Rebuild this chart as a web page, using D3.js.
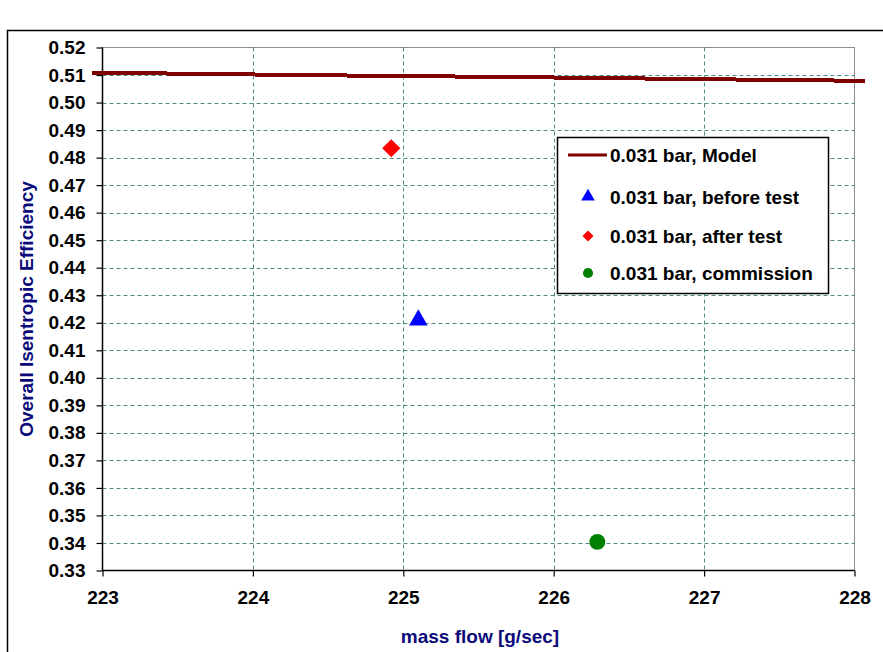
<!DOCTYPE html>
<html>
<head>
<meta charset="utf-8">
<script src="https://cdn.jsdelivr.net/npm/d3@7/dist/d3.min.js"></script>
<style>
  html, body { margin: 0; padding: 0; background: #ffffff; }
  svg { display: block; }
  text { font-family: "Liberation Sans", Arial, sans-serif; font-weight: bold; }
</style>
</head>
<body>
<svg id="chart" width="883" height="652"></svg>
<script>
// Model curve: mass flow [g/sec] vs overall isentropic efficiency
const modelFlow = [222.93, 223.5, 224.0, 224.5, 225.0, 225.5, 226.0, 226.5, 227.0, 227.5, 228.07];
const modelEff  = [0.5109, 0.5105, 0.5102, 0.5099, 0.5096, 0.5094, 0.5091, 0.5088, 0.5085, 0.5082, 0.5079];

// Measured points
const beforeTest = { flow: 225.10, eff: 0.421 };
const afterTest  = { flow: 224.92, eff: 0.4834 };
const commission = { flow: 226.29, eff: 0.3404 };

const xTicks = [223, 224, 225, 226, 227, 228];
const yTicks = d3.range(33, 53).map(v => v / 100);

const seriesNames = [
  "0.031 bar, Model",
  "0.031 bar, before test",
  "0.031 bar, after test",
  "0.031 bar, commission"
];
const seriesColors = ["#800000", "#0000ff", "#ff0000", "#008000"];

const xTitle = "mass flow [g/sec]";
const yTitle = "Overall Isentropic Efficiency";

const svg = d3.select("#chart");
const plot = { left: 102.5, right: 854.5, top: 47.5, bottom: 570.5 };

const x = d3.scaleLinear().domain([223, 228]).range([plot.left, plot.right]);
const y = d3.scaleLinear().domain([0.33, 0.52]).range([plot.bottom, plot.top]);

// outer chart frame (runs past the right and bottom edges)
svg.append("rect")
  .attr("x", 7.5).attr("y", 30.5)
  .attr("width", 1000).attr("height", 1000)
  .attr("fill", "#ffffff").attr("stroke", "#000").attr("stroke-width", 1.5);

// plot area border (top / right in gray)
svg.append("rect")
  .attr("x", plot.left).attr("y", plot.top)
  .attr("width", plot.right - plot.left).attr("height", plot.bottom - plot.top)
  .attr("fill", "#ffffff").attr("stroke", "#8c8c8c").attr("stroke-width", 1);

// gridlines
const gridColor = "#4f8a82";
svg.append("g").selectAll("line")
  .data(yTicks.filter(v => v > 0.335 && v < 0.515))
  .join("line")
  .attr("x1", plot.left).attr("x2", plot.right)
  .attr("y1", d => Math.round(y(d)) + 0.5).attr("y2", d => Math.round(y(d)) + 0.5)
  .attr("stroke", gridColor).attr("stroke-width", 1).attr("stroke-dasharray", "4,3");
svg.append("g").selectAll("line")
  .data(xTicks.filter(v => v > 223 && v < 228))
  .join("line")
  .attr("x1", d => Math.round(x(d)) + 0.5).attr("x2", d => Math.round(x(d)) + 0.5)
  .attr("y1", plot.top).attr("y2", plot.bottom)
  .attr("stroke", gridColor).attr("stroke-width", 1).attr("stroke-dasharray", "4,3");

// axes
const yAxis = d3.axisLeft(y).tickValues(yTicks).tickFormat(d3.format(".2f")).tickSize(6).tickPadding(11);
const xAxis = d3.axisBottom(x).tickValues(xTicks).tickFormat(d3.format("d")).tickSize(6).tickPadding(14);

const gy = svg.append("g").attr("transform", `translate(${plot.left},0)`).call(yAxis);
const gx = svg.append("g").attr("transform", `translate(0,${plot.bottom})`).call(xAxis);
[gx, gy].forEach(g => {
  g.select(".domain").attr("stroke", "#000").attr("stroke-width", 1.5);
  g.selectAll(".tick line").attr("stroke", "#000").attr("stroke-width", 1.2);
  g.selectAll(".tick text").attr("fill", "#000")
    .style("font-size", "19px").style("font-weight", "bold")
    .style("font-family", "'Liberation Sans', Arial, sans-serif");
});
gy.select(".domain").attr("d", `M0,${plot.top}V${plot.bottom}`);
gx.select(".domain").attr("d", `M${plot.left},0H${plot.right}`);

// axis titles
svg.append("text")
  .attr("x", 480).attr("y", 643)
  .attr("text-anchor", "middle")
  .attr("fill", "#0a0a7a").style("font-size", "19px")
  .text(xTitle);
svg.append("text")
  .attr("transform", "translate(33,309) rotate(-90)")
  .attr("text-anchor", "middle")
  .attr("fill", "#0a0a7a").style("font-size", "19px")
  .text(yTitle);

// model line
const modelData = modelFlow.map((f, i) => [f, modelEff[i]]);
svg.append("path")
  .datum(modelData)
  .attr("d", d3.line().x(d => x(d[0])).y(d => y(d[1])))
  .attr("fill", "none").attr("stroke", seriesColors[0]).attr("stroke-width", 4)
  .attr("shape-rendering", "crispEdges");

// markers
const sym = (type, size) => d3.symbol().type(type).size(size)();
svg.append("path")
  .attr("transform", `translate(${x(beforeTest.flow)},${y(beforeTest.eff)})`)
  .attr("d", sym(d3.symbolTriangle, 150))
  .attr("fill", seriesColors[1]);
svg.append("path")
  .attr("transform", `translate(${x(afterTest.flow)},${y(afterTest.eff)}) rotate(45)`)
  .attr("d", sym(d3.symbolSquare, 165))
  .attr("fill", seriesColors[2]);
svg.append("path")
  .attr("transform", `translate(${x(commission.flow)},${y(commission.eff)})`)
  .attr("d", sym(d3.symbolCircle, 200))
  .attr("fill", seriesColors[3]);

// legend
const lg = svg.append("g").attr("transform", "translate(557,137)");
lg.append("rect")
  .attr("x", 0.5).attr("y", 0.5).attr("width", 271).attr("height", 156)
  .attr("fill", "#ffffff").attr("stroke", "#000").attr("stroke-width", 1.5);
const rowY = [18, 59.5, 99, 136];
seriesNames.forEach((name, i) => {
  const row = lg.append("g").attr("transform", `translate(0,${rowY[i]})`);
  if (i === 0) {
    row.append("line").attr("x1", 11).attr("x2", 50).attr("y1", 0).attr("y2", 0)
      .attr("stroke", seriesColors[0]).attr("stroke-width", 3);
  } else if (i === 1) {
    row.append("path").attr("transform", "translate(31,0)")
      .attr("d", sym(d3.symbolTriangle, 80)).attr("fill", seriesColors[1]);
  } else if (i === 2) {
    row.append("path").attr("transform", "translate(31,0) rotate(45)")
      .attr("d", sym(d3.symbolSquare, 60)).attr("fill", seriesColors[2]);
  } else {
    row.append("path").attr("transform", "translate(31,0)")
      .attr("d", sym(d3.symbolCircle, 80)).attr("fill", seriesColors[3]);
  }
  row.append("text").attr("x", 53).attr("y", 7)
    .attr("fill", "#000").style("font-size", "19px")
    .text(name);
});
</script>
</body>
</html>
